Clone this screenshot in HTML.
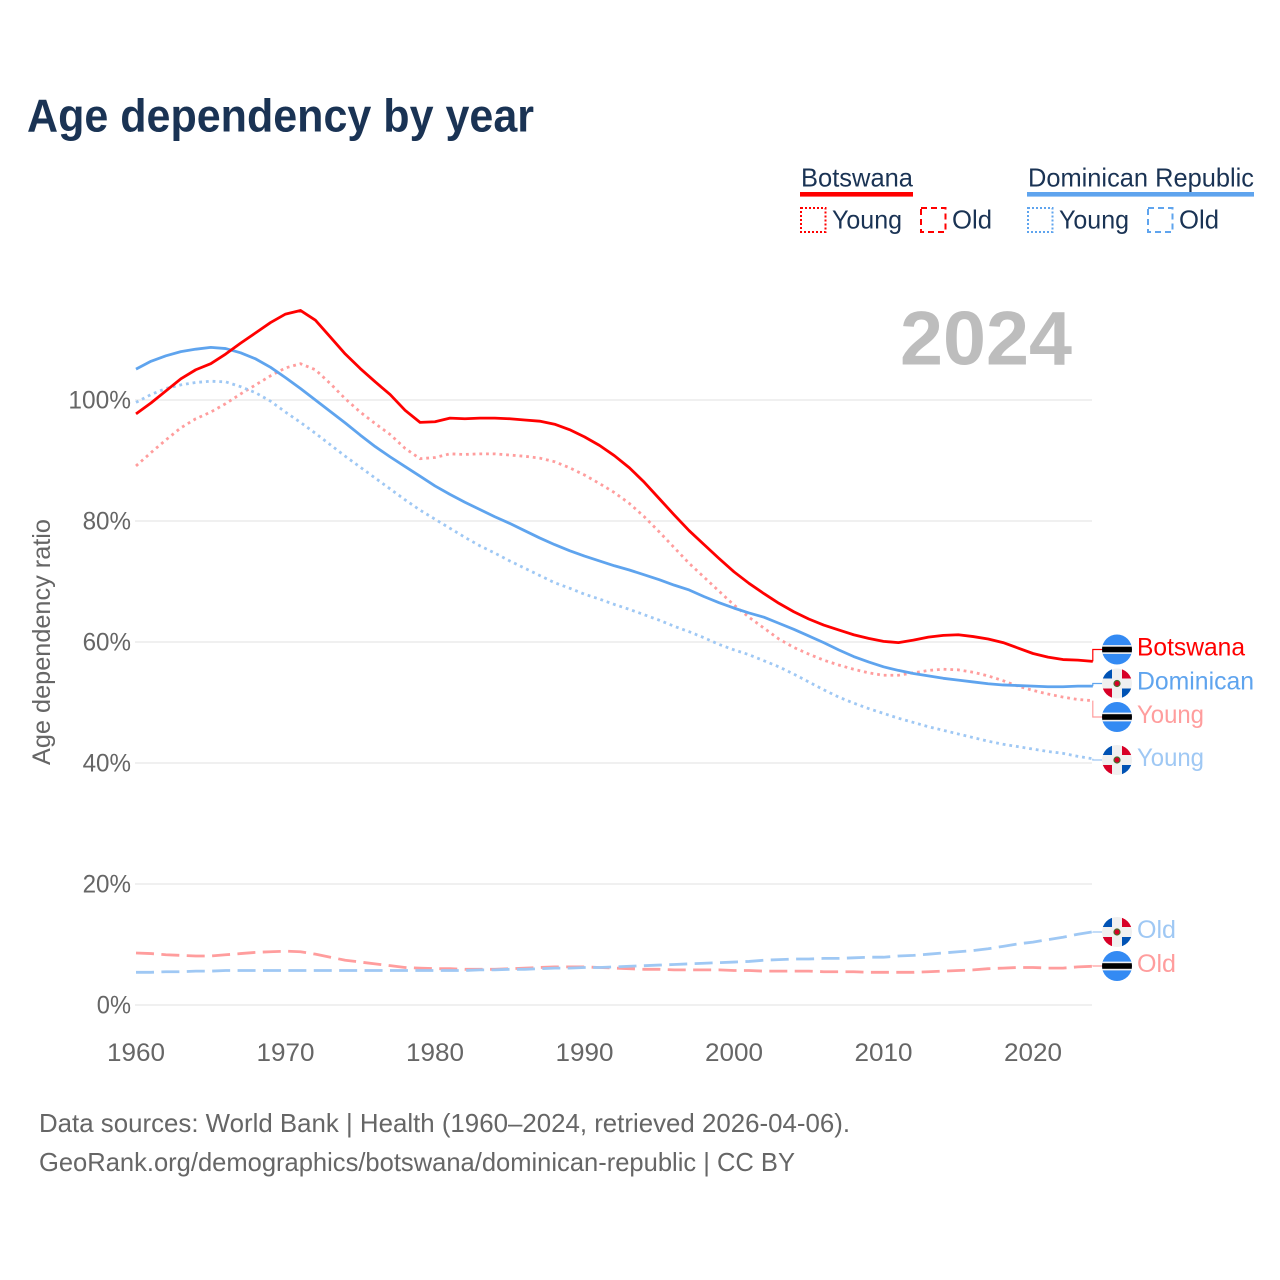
<!DOCTYPE html>
<html lang="en">
<head>
<meta charset="utf-8">
<title>Age dependency by year</title>
<style>
html,body{margin:0;padding:0;background:#fff;}
svg{display:block;font-family:"Liberation Sans",sans-serif;}
</style>
</head>
<body>
<svg id="chart" xmlns="http://www.w3.org/2000/svg" width="1280" height="1280" viewBox="0 0 1280 1280">
  <defs>
    <clipPath id="flag-clip"><circle cx="0" cy="0" r="15"/></clipPath>
    <g id="flag-bw" clip-path="url(#flag-clip)">
      <rect x="-15" y="-15" width="30" height="30" fill="#338af3"/>
      <rect x="-15" y="-4.4" width="30" height="8.8" fill="#f0f0f0"/>
      <rect x="-15" y="-2.8" width="30" height="5.6" fill="#000"/>
    </g>
    <g id="flag-do" clip-path="url(#flag-clip)">
      <rect x="-15" y="-15" width="30" height="30" fill="#f0f0f0"/>
      <rect x="-15" y="-15" width="10" height="10" fill="#0052b4"/>
      <rect x="5" y="-15" width="10" height="10" fill="#d80027"/>
      <rect x="-15" y="5" width="10" height="10" fill="#d80027"/>
      <rect x="5" y="5" width="10" height="10" fill="#0052b4"/>
      <circle r="3.6" fill="#496e2d"/>
      <circle r="2.4" fill="#d80027"/>
    </g>
  </defs>

  <text x="27" y="131.500" font-size="46" font-weight="700" fill="#1a3354" textLength="507" lengthAdjust="spacingAndGlyphs">Age dependency by year</text>

  <g font-size="26" fill="#1a3354">
    <text x="801" y="186.500" textLength="112" lengthAdjust="spacingAndGlyphs">Botswana</text>
    <rect x="800" y="192" width="113" height="4.6" fill="#ff0000"/>
    <rect x="801" y="208" width="24.500" height="24" fill="none" stroke="#ff0000" stroke-width="2" stroke-dasharray="2 2"/>
    <text x="832" y="228.500" textLength="70" lengthAdjust="spacingAndGlyphs">Young</text>
    <rect x="921" y="208" width="24.500" height="24" fill="none" stroke="#ff0000" stroke-width="2" stroke-dasharray="6 4"/>
    <text x="952" y="228.500" textLength="40" lengthAdjust="spacingAndGlyphs">Old</text>

    <text x="1028" y="186.500" textLength="226" lengthAdjust="spacingAndGlyphs">Dominican Republic</text>
    <rect x="1027" y="192" width="227" height="4.6" fill="#5fa4ee"/>
    <rect x="1028" y="208" width="24.500" height="24" fill="none" stroke="#5fa4ee" stroke-width="2" stroke-dasharray="2 2"/>
    <text x="1059" y="228.500" textLength="70" lengthAdjust="spacingAndGlyphs">Young</text>
    <rect x="1148" y="208" width="24.500" height="24" fill="none" stroke="#5fa4ee" stroke-width="2" stroke-dasharray="6 4"/>
    <text x="1179" y="228.500" textLength="40" lengthAdjust="spacingAndGlyphs">Old</text>
  </g>

  <g id="grid"></g>
  <g id="y-ticks"></g>
  <g id="x-ticks"></g>

  <text x="900" y="364.500" font-size="76" font-weight="700" fill="#bdbdbd" textLength="172" lengthAdjust="spacingAndGlyphs">2024</text>

  <text transform="translate(50 642) rotate(-90)" text-anchor="middle" font-size="25" fill="#666" textLength="246" lengthAdjust="spacingAndGlyphs">Age dependency ratio</text>

  <g id="series"></g>
  <g id="end-labels"></g>

  <text x="39" y="1132" font-size="26" fill="#666" textLength="811" lengthAdjust="spacingAndGlyphs">Data sources: World Bank | Health (1960–2024, retrieved 2026-04-06).</text>
  <text x="39" y="1171" font-size="26" fill="#666" textLength="756" lengthAdjust="spacingAndGlyphs">GeoRank.org/demographics/botswana/dominican-republic | CC BY</text>
</svg>
<script>
const years = [1960,1961,1962,1963,1964,1965,1966,1967,1968,1969,1970,1971,1972,1973,1974,1975,1976,1977,1978,1979,1980,1981,1982,1983,1984,1985,1986,1987,1988,1989,1990,1991,1992,1993,1994,1995,1996,1997,1998,1999,2000,2001,2002,2003,2004,2005,2006,2007,2008,2009,2010,2011,2012,2013,2014,2015,2016,2017,2018,2019,2020,2021,2022,2023,2024];
const botswanaTotal = [97.7,99.5,101.5,103.5,105,106,107.6,109.4,111.1,112.8,114.2,114.8,113.2,110.4,107.6,105.2,103,100.9,98.3,96.3,96.4,97,96.9,97,97,96.9,96.7,96.5,96,95.1,93.9,92.5,90.8,88.8,86.4,83.7,81,78.4,76.1,73.8,71.6,69.7,68,66.4,65,63.8,62.8,62,61.2,60.6,60.1,59.9,60.3,60.8,61.1,61.2,60.9,60.5,59.9,59,58.1,57.5,57.1,57,56.8];
const botswanaYoung = [89.1,91.3,93.4,95.4,96.9,98,99.4,101,102.5,104,105.3,106,105,102.7,100.2,98,96.1,94.3,92,90.3,90.5,91.1,91,91.1,91.1,90.9,90.7,90.4,89.8,88.8,87.6,86.2,84.7,82.9,80.7,78.2,75.6,73,70.7,68.4,66.1,64.1,62.3,60.5,59.1,58,57,56.2,55.5,54.9,54.5,54.5,54.9,55.3,55.5,55.4,55,54.4,53.6,52.7,52,51.4,50.9,50.5,50.3];
const botswanaOld = [8.6,8.5,8.3,8.2,8.1,8.1,8.3,8.5,8.7,8.8,8.9,8.8,8.4,7.9,7.4,7.1,6.8,6.5,6.2,6.1,6.0,6.0,5.9,5.9,5.9,6.0,6.1,6.2,6.3,6.3,6.3,6.2,6.1,6.0,5.9,5.9,5.8,5.8,5.8,5.8,5.7,5.7,5.6,5.6,5.6,5.6,5.5,5.5,5.5,5.4,5.4,5.4,5.4,5.5,5.6,5.7,5.8,6.0,6.1,6.2,6.2,6.1,6.1,6.3,6.4];
const dominicanTotal = [105.1,106.4,107.3,108,108.4,108.7,108.5,107.8,106.8,105.4,103.7,101.9,100,98.1,96.2,94.2,92.3,90.6,89,87.4,85.8,84.4,83.1,81.9,80.7,79.6,78.4,77.2,76.1,75.1,74.2,73.4,72.6,71.9,71.1,70.3,69.4,68.6,67.5,66.5,65.6,64.8,64.1,63.1,62.1,61,59.9,58.7,57.6,56.7,55.9,55.3,54.8,54.4,54,53.7,53.4,53.1,52.9,52.8,52.7,52.6,52.6,52.7,52.7];
const dominicanYoung = [99.6,100.9,101.9,102.5,102.9,103.1,103,102.2,101.2,99.8,98,96.3,94.5,92.6,90.7,88.9,87.1,85.3,83.5,81.8,80.3,78.8,77.3,75.9,74.7,73.4,72.2,71,69.8,68.9,67.9,67.1,66.2,65.4,64.5,63.6,62.6,61.7,60.7,59.6,58.7,57.9,56.9,55.9,54.7,53.4,52.1,50.9,49.9,49,48.2,47.4,46.7,46,45.4,44.8,44.2,43.6,43.1,42.7,42.3,41.9,41.6,41.1,40.7];
const dominicanOld = [5.4,5.4,5.5,5.5,5.6,5.6,5.7,5.7,5.7,5.7,5.7,5.7,5.7,5.7,5.7,5.7,5.7,5.7,5.7,5.7,5.7,5.7,5.7,5.8,5.8,5.9,5.9,6.0,6.1,6.1,6.2,6.2,6.3,6.4,6.5,6.6,6.7,6.8,6.9,7.0,7.1,7.2,7.4,7.5,7.6,7.6,7.7,7.7,7.8,7.9,7.9,8.1,8.2,8.4,8.6,8.8,9.0,9.3,9.7,10.1,10.4,10.8,11.2,11.7,12.1];
const yTickValues = [0,20,40,60,80,100];
const xTickValues = [1960,1970,1980,1990,2000,2010,2020];

const NS = 'http://www.w3.org/2000/svg';
function xScale(year){ return 136 + (year - 1960) * 14.95; }
function yScale(v){ return 1005 - v * 6.05; }
function make(tag, attrs, parent){
  const el = document.createElementNS(NS, tag);
  for (const k in attrs) el.setAttribute(k, attrs[k]);
  parent.appendChild(el);
  return el;
}

const gridG = document.getElementById('grid');
const yG = document.getElementById('y-ticks');
yTickValues.forEach(function(v){
  const line = make('line', {x1:135, x2:1092, y1:yScale(v), y2:yScale(v), stroke:'#ececec', 'stroke-width':1.5}, gridG);
  
  
  const label = v + '%';
  const t = make('text', {x:131 - ((label.length - 1) * 14.2 + 20), y:yScale(v) + 8.5, 'font-size':25, fill:'#666', textLength:(label.length - 1) * 14.2 + 20, lengthAdjust:'spacingAndGlyphs'}, yG);
  t.textContent = label;
  
  
});

const xG = document.getElementById('x-ticks');
xTickValues.forEach(function(yr){
  const t = make('text', {x:xScale(yr) - 29, y:1061, 'font-size':25, fill:'#666', textLength:58, lengthAdjust:'spacingAndGlyphs'}, xG);
  t.textContent = String(yr);
  
  
});

const RED = '#ff0000', BLUE = '#5fa4ee', LRED = '#ff9d9d', LBLUE = '#9fc8f4';
const DOT = '2.8 3.9', DASH = '18 7.4';
const seriesG = document.getElementById('series');
const labelsG = document.getElementById('end-labels');

function drawLine(values, color, dash, width, name){
  const d = values.map(function(v, i){
    return (i ? 'L' : 'M') + xScale(years[i]).toFixed(2) + ' ' + yScale(v).toFixed(2);
  }).join(' ');
  const attrs = {d:d, fill:'none', stroke:color, 'stroke-width':width, 'stroke-linejoin':'round'};
  if (dash) attrs['stroke-dasharray'] = dash;
  const p = make('path', attrs, seriesG);
  
  
}
drawLine(botswanaOld, LRED, DASH, 2.8, 'line-botswana-old');
drawLine(dominicanOld, LBLUE, DASH, 2.8, 'line-dominican-old');
drawLine(botswanaYoung, LRED, DOT, 2.8, 'line-botswana-young');
drawLine(dominicanYoung, LBLUE, DOT, 2.8, 'line-dominican-young');
drawLine(dominicanTotal, BLUE, null, 2.8, 'line-dominican-total');
drawLine(botswanaTotal, RED, null, 2.8, 'line-botswana-total');

function drawEnd(values, color, flag, cy, text, width, name){
  const endX = xScale(years[years.length - 1]);
  const endY = yScale(values[values.length - 1]);
  const c = make('path', {d:'M' + endX.toFixed(2) + ' ' + endY.toFixed(2) + ' L' + endX.toFixed(2) + ' ' + cy + ' L1102 ' + cy, fill:'none', stroke:color, 'stroke-width':1.2}, labelsG);
  
  
  const u = make('use', {href:'#' + flag, transform:'translate(1117 ' + cy + ')'}, labelsG);
  
  
  const t = make('text', {x:1137, y:cy + 6, 'font-size':25, fill:color, textLength:width, lengthAdjust:'spacingAndGlyphs'}, labelsG);
  t.textContent = text;
  
  
}
drawEnd(botswanaTotal, RED, 'flag-bw', 649.5, 'Botswana', 108, 'end-botswana-total');
drawEnd(dominicanTotal, BLUE, 'flag-do', 683.5, 'Dominican', 117, 'end-dominican-total');
drawEnd(botswanaYoung, LRED, 'flag-bw', 717, 'Young', 67, 'end-botswana-young');
drawEnd(dominicanYoung, LBLUE, 'flag-do', 760, 'Young', 67, 'end-dominican-young');
drawEnd(dominicanOld, LBLUE, 'flag-do', 932, 'Old', 39, 'end-dominican-old');
drawEnd(botswanaOld, LRED, 'flag-bw', 966, 'Old', 39, 'end-botswana-old');
</script>
</body>
</html>
